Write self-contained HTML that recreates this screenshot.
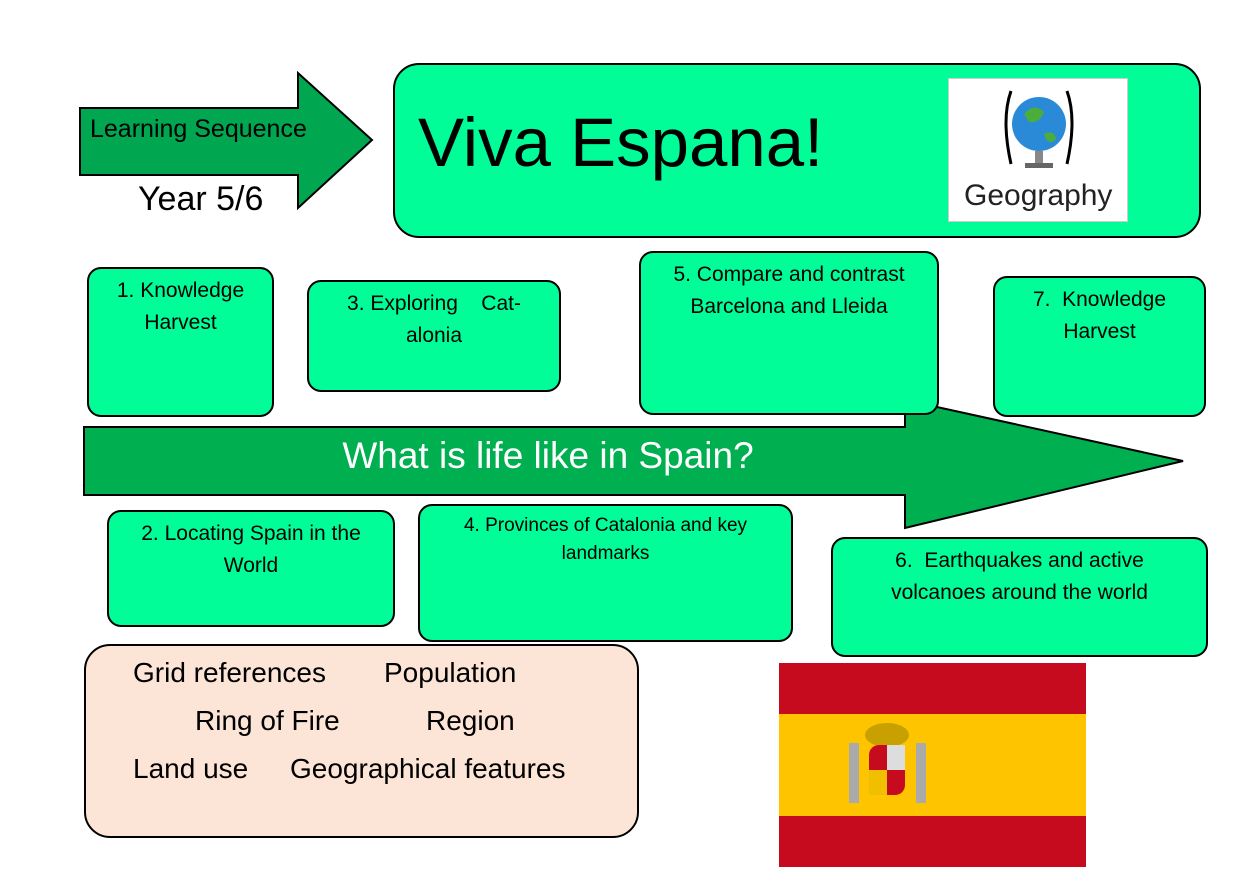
<!DOCTYPE html>
<html><head><meta charset="utf-8"><style>
body{margin:0;width:1260px;height:891px;background:#fff;position:relative;overflow:hidden;font-family:"Liberation Sans",sans-serif;}
.b{position:absolute;background:#00fd98;border:2.5px solid #000;border-radius:14px;box-sizing:border-box;text-align:center;font-size:21px;color:#000;line-height:32px;padding-top:6px;}
.t{position:absolute;white-space:nowrap;}
</style></head><body>
<svg width="1260" height="891" style="position:absolute;left:0;top:0">
<polygon points="80,108 298,108 298,73 372,140 298,208 298,175 80,175" fill="#00a650" stroke="#000" stroke-width="2"/>
<polygon points="84,427 905,427 905,400 1183,461 905,528 905,495 84,495" fill="#00b050" stroke="#000" stroke-width="2"/>
</svg>
<div class="t" style="left:90px;top:115px;font-size:25px;">Learning Sequence</div>
<div class="t" style="left:138px;top:180px;font-size:34px;">Year 5/6</div>
<div class="b" style="left:393px;top:63px;width:808px;height:175px;border-radius:26px;"></div>
<div class="t" style="left:418px;top:103px;font-size:69px;">Viva Espana!</div>
<div style="position:absolute;left:948px;top:78px;width:180px;height:144px;background:#fff;border:1px solid #ccc;box-sizing:border-box;">
<svg width="180" height="100" style="position:absolute;left:0;top:0">
<path d="M62,12 Q52,40 62,85" stroke="#000" stroke-width="3" fill="none"/>
<path d="M118,12 Q128,40 118,85" stroke="#000" stroke-width="3" fill="none"/>
<circle cx="90" cy="45" r="27" fill="#2a8ad8"/>
<path d="M75,35 q10,-12 20,-2 q-5,12 -15,10 z M95,55 q10,-5 12,5 q-8,8 -12,-5z" fill="#4cae3a"/>
<rect x="86" y="72" width="8" height="12" fill="#888"/>
<rect x="76" y="84" width="28" height="5" fill="#666"/>
</svg>
<div class="t" style="left:15px;top:100px;font-size:30px;color:#222;">Geography</div>
</div>
<div class="b" style="left:87px;top:267px;width:187px;height:150px;">1. Knowledge<br>Harvest</div>
<div class="b" style="left:307px;top:280px;width:254px;height:112px;">3. Exploring &nbsp;&nbsp;&nbsp;Cat-<br>alonia</div>
<div class="b" style="left:639px;top:251px;width:300px;height:164px;">5. Compare and contrast<br>Barcelona and Lleida</div>
<div class="b" style="left:993px;top:276px;width:213px;height:141px;">7. &nbsp;Knowledge<br>Harvest</div>
<div class="t" style="left:0;width:1096px;text-align:center;top:435px;font-size:37px;color:#fff;">What is life like in Spain?</div>
<div class="b" style="left:107px;top:510px;width:288px;height:117px;">2. Locating Spain in the<br>World</div>
<div class="b" style="left:418px;top:504px;width:375px;height:138px;font-size:19px;line-height:28px;">4. Provinces of Catalonia and key<br>landmarks</div>
<div class="b" style="left:831px;top:537px;width:377px;height:120px;">6. &nbsp;Earthquakes and active<br>volcanoes around the world</div>
<div class="b" style="left:84px;top:644px;width:555px;height:194px;background:#fce4d6;border-radius:26px;"></div>
<div class="t" style="left:133px;top:657px;font-size:28px;">Grid references</div>
<div class="t" style="left:384px;top:657px;font-size:28px;">Population</div>
<div class="t" style="left:195px;top:705px;font-size:28px;">Ring of Fire</div>
<div class="t" style="left:426px;top:705px;font-size:28px;">Region</div>
<div class="t" style="left:133px;top:753px;font-size:28px;">Land use</div>
<div class="t" style="left:290px;top:753px;font-size:28px;">Geographical features</div>
<div style="position:absolute;left:779px;top:663px;width:307px;height:204px;background:#c60b1e;">
<div style="position:absolute;left:0;top:51px;width:307px;height:102px;background:#ffc400;"></div>
<svg width="307" height="204" style="position:absolute;left:0;top:0">
<rect x="70" y="80" width="10" height="60" fill="#aaa"/><rect x="137" y="80" width="10" height="60" fill="#aaa"/>
<ellipse cx="108" cy="72" rx="22" ry="12" fill="#c8a000"/>
<rect x="90" y="82" width="36" height="50" rx="10" fill="#c60b1e"/>
<rect x="108" y="82" width="18" height="25" fill="#ddd"/>
<rect x="90" y="107" width="18" height="25" fill="#f0c000"/>
</svg></div>
</body></html>
